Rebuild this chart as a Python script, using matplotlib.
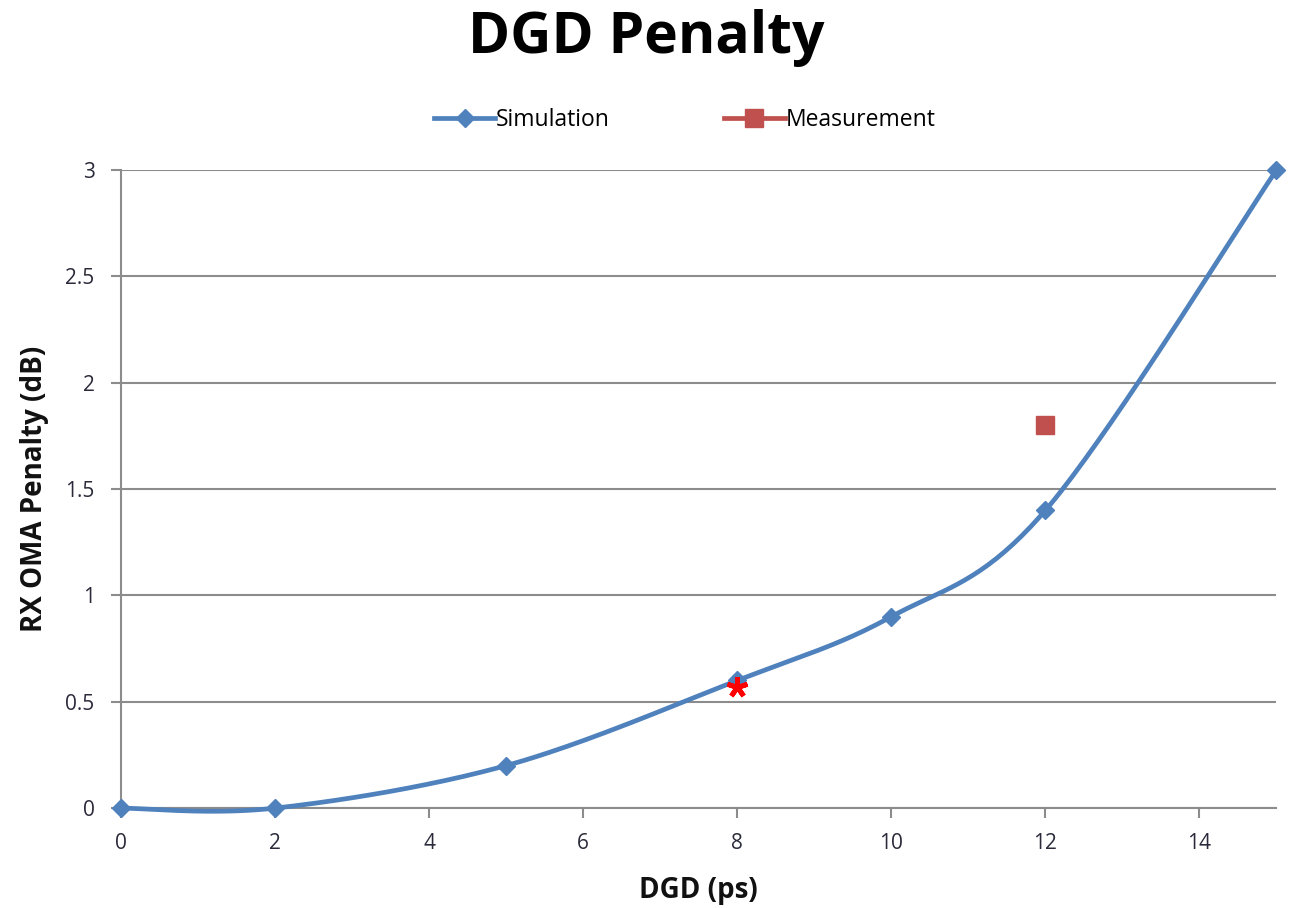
import numpy as np
import matplotlib.pyplot as plt

# data
dgd_sim = [0, 2, 5, 8, 10, 12, 15]
penalty_sim = [0.0, 0.0, 0.2, 0.6, 0.9, 1.4, 3.0]
dgd_meas = [12]
penalty_meas = [1.8]
star_x = [8]
star_y = [0.57]
x_ticks = [0, 2, 4, 6, 8, 10, 12, 14]
y_ticks = [0, 0.5, 1, 1.5, 2, 2.5, 3]

blue = '#4F81BD'
red = '#C0504D'
grid_gray = '#8C8C8C'
text_col = '#2a2a3a'


# Excel-style smoothed line (Catmull-Rom with Bezier segments)
def smooth_curve(x, y, n=40):
    p = np.column_stack([x, y]).astype(float)
    out = []
    for i in range(len(p) - 1):
        p0 = p[i - 1] if i > 0 else p[i]
        p1 = p[i]
        p2 = p[i + 1]
        p3 = p[i + 2] if i + 2 < len(p) else p[i + 1]
        c1 = p1 + (p2 - p0) / 6
        c2 = p2 - (p3 - p1) / 6
        t = np.linspace(0, 1, n)[:, None]
        seg = ((1 - t) ** 3) * p1 + 3 * ((1 - t) ** 2) * t * c1 \
            + 3 * (1 - t) * t ** 2 * c2 + t ** 3 * p2
        out.append(seg if i == 0 else seg[1:])
    seg = np.vstack(out)
    return seg[:, 0], seg[:, 1]


plt.rcParams['font.family'] = ['Open Sans', 'DejaVu Sans']

fig = plt.figure(figsize=(12.92, 9.08), dpi=100)
ax = fig.add_axes([0.0937, 0.110, 0.8943, 0.7028])

sx, sy = smooth_curve(dgd_sim, penalty_sim)
ax.plot(sx, sy, color=blue, lw=3.4, solid_capstyle='round', zorder=3, clip_on=False)
ax.plot(dgd_sim, penalty_sim, linestyle='none', marker='D', markersize=9,
        color=blue, zorder=4, clip_on=False)
# legend proxy for simulation
ax.plot([], [], color=blue, lw=3.4, marker='D', markersize=9, label='Simulation')
ax.plot(dgd_meas, penalty_meas, color=red, lw=3.4, marker='s', markersize=13,
        label='Measurement', zorder=4)
ax.plot(star_x, star_y, linestyle='none', marker=(5, 2, 0), markersize=15,
        markeredgewidth=3.5, color='red', zorder=5)

ax.set_xlim(0, 15)
ax.set_ylim(0, 3)
ax.set_xticks(x_ticks)
ax.set_yticks(y_ticks)
ax.set_yticklabels(['0', '0.5', '1', '1.5', '2', '2.5', '3'])
ax.grid(axis='y', color=grid_gray, lw=1.5)
ax.set_axisbelow(True)
for s in ['top', 'right']:
    ax.spines[s].set_visible(False)
for s in ['left', 'bottom']:
    ax.spines[s].set_color(grid_gray)
    ax.spines[s].set_linewidth(1.5)
ax.tick_params(axis='both', colors=grid_gray, labelcolor=text_col,
               labelsize=15, length=7, width=1.5)
ax.tick_params(axis='y', pad=12)
ax.tick_params(axis='x', pad=11)

ax.set_xlabel('DGD (ps)', fontsize=20, fontweight='bold', color='#111111', labelpad=16)
ax.set_ylabel('RX OMA Penalty (dB)', fontsize=20, fontweight='bold', color='#111111', labelpad=12)

fig.suptitle('DGD Penalty', fontsize=41, fontweight='bold', y=0.99)

ax.legend(loc='center', bbox_to_anchor=(685 / 1292, 1 - 120 / 908), bbox_transform=fig.transFigure,
          ncol=2, frameon=False, fontsize=16.5, numpoints=1, handlelength=2.63,
          handletextpad=0.05, columnspacing=5.0)

fig.savefig('out.png', dpi=100)
